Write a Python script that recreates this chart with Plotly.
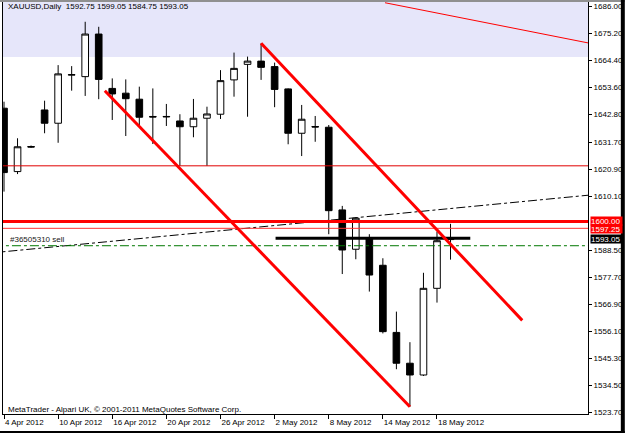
import plotly.graph_objects as go

# ---- data ----
bar_index = list(range(34))
opens  = [1645.2, 1619.9, 1629.9, 1644.5, 1639.2, 1658.4, 1657.8, 1674.8, 1653.1, 1651.2,
          1648.8, 1641.9, 1641.7, 1640.1, 1637.8, 1641.2, 1642.8, 1656.5, 1662.7, 1664.0,
          1661.8, 1652.9, 1635.2, 1637.9, 1637.6, 1604.6, 1588.9, 1593.3, 1582.5, 1555.7,
          1543.4, 1538.7, 1573.3, 1592.75]
highs  = [1647.8, 1633.2, 1630.3, 1648.2, 1662.4, 1662.0, 1679.7, 1677.7, 1657.1, 1656.7,
          1653.8, 1653.1, 1646.9, 1642.8, 1648.9, 1645.8, 1660.4, 1667.4, 1665.8, 1671.1,
          1663.4, 1653.1, 1646.5, 1642.1, 1638.5, 1606.2, 1601.6, 1594.9, 1585.3, 1564.0,
          1551.8, 1579.5, 1595.9, 1599.05]
lows   = [1611.9, 1618.9, 1629.4, 1635.2, 1631.4, 1652.2, 1650.1, 1648.8, 1640.5, 1634.1,
          1637.8, 1630.9, 1638.1, 1622.2, 1633.6, 1622.2, 1640.9, 1649.8, 1641.8, 1656.5,
          1645.6, 1630.8, 1626.1, 1631.8, 1594.9, 1579.0, 1584.9, 1572.0, 1555.3, 1541.0,
          1526.0, 1538.3, 1567.6, 1584.75]
closes = [1619.5, 1629.8, 1629.7, 1639.2, 1658.9, 1658.6, 1674.8, 1656.7, 1650.9, 1649.0,
          1641.6, 1641.7, 1641.9, 1637.8, 1641.2, 1642.9, 1656.2, 1661.1, 1664.0, 1661.5,
          1652.7, 1635.2, 1640.8, 1637.7, 1604.3, 1588.6, 1601.3, 1578.6, 1556.0, 1543.4,
          1538.7, 1573.3, 1592.3, 1593.05]

x_tick_pos = [0, 4, 8, 12, 16, 20, 24, 28, 32]
x_tick_labels = ["4 Apr 2012", "10 Apr 2012", "16 Apr 2012", "20 Apr 2012", "26 Apr 2012",
                 "2 May 2012", "8 May 2012", "14 May 2012", "18 May 2012"]
y_tick_vals = [1686.00, 1675.20, 1664.40, 1653.60, 1642.80, 1631.70, 1620.90, 1610.10,
               1588.50, 1577.70, 1566.90, 1556.10, 1545.30, 1534.50, 1523.70]

# drawn objects (data coordinates)
upper_channel_x = [19, 38.3]
upper_channel_y = [1671.1, 1560.5]
lower_channel_x = [7.45, 30]
lower_channel_y = [1652.2, 1526.0]
top_line_x = [28.16, 45]
top_line_y = [1687.3, 1669.3]
trend_dd_x = [-1, 44]
trend_dd_y = [1587.4, 1610.9]
black_level_x = [20.07, 34.46]
black_level_y = 1593.3
level_thick_red = 1600.00
level_thin_red = 1597.25
level_dark_red = 1622.2
sell_order_level = 1590.3
zone_low = 1665.6
bid = 1593.05

title_text = "XAUUSD,Daily  1592.75 1599.05 1584.75 1593.05"

# ---- geometry ----
L, R, T, B = 2, 35, 2, 19
W, H = 625, 433
pw, ph = W - L - R, H - T - B
x_range = [-0.074, 43.16]
y_range = [1523.128, 1687.597]
FONT = "Liberation Sans"

def px(xp):
    return (xp - L) / pw

def py(yp):
    return (H - B - yp) / ph

fig = go.Figure()

fig.add_trace(go.Candlestick(
    x=bar_index, open=opens, high=highs, low=lows, close=closes,
    increasing=dict(line=dict(color="black", width=1), fillcolor="white"),
    decreasing=dict(line=dict(color="black", width=1), fillcolor="black"),
    whiskerwidth=0, showlegend=False, hoverinfo="skip"))

def line(xs, ys, color, width, dash="solid"):
    fig.add_trace(go.Scatter(x=xs, y=ys, mode="lines",
                             line=dict(color=color, width=width, dash=dash),
                             showlegend=False, hoverinfo="skip"))

line(trend_dd_x, trend_dd_y, "black", 1, "dashdot")
line([x_range[0] - 2, x_range[1] + 2], [sell_order_level] * 2, "#007800", 1, "dashdot")
line([x_range[0] - 2, x_range[1] + 2], [level_dark_red] * 2, "#E00000", 1)
line([x_range[0] - 2, x_range[1] + 2], [level_thin_red] * 2, "#FF3030", 1)
line([x_range[0] - 2, x_range[1] + 2], [level_thick_red] * 2, "#FF0000", 3)
line(black_level_x, [black_level_y] * 2, "black", 3)
line(upper_channel_x, upper_channel_y, "#FF0000", 3)
line(lower_channel_x, lower_channel_y, "#FF0000", 3)
line(top_line_x, top_line_y, "#FF0000", 1)

shapes = [
    dict(type="rect", xref="paper", yref="y", x0=0, x1=1, y0=zone_low, y1=y_range[1],
         fillcolor="#E6E6FA", line=dict(width=0), layer="below"),
    # window frame
    dict(type="rect", xref="paper", yref="paper", x0=px(-2), x1=px(627), y0=py(2), y1=py(-2),
         fillcolor="#909090", line=dict(width=0)),
    dict(type="rect", xref="paper", yref="paper", x0=px(-2), x1=px(627), y0=py(435), y1=py(431),
         fillcolor="black", line=dict(width=0)),
    dict(type="rect", xref="paper", yref="paper", x0=px(623), x1=px(627), y0=py(435), y1=py(-2),
         fillcolor="black", line=dict(width=0)),
]

annotations = [
    dict(xref="paper", yref="paper", x=px(5), y=py(7), text=title_text, showarrow=False,
         xanchor="left", yanchor="middle", font=dict(family=FONT, size=8, color="black")),
    dict(xref="paper", yref="paper", x=px(5), y=py(409),
         text="MetaTrader - Alpari UK, © 2001-2011 MetaQuotes Software Corp.", showarrow=False,
         xanchor="left", yanchor="middle", font=dict(family=FONT, size=8, color="black")),
    dict(xref="paper", yref="y", x=px(7), y=1592.6, text="#36505310 sell", showarrow=False,
         xanchor="left", yanchor="middle", font=dict(family=FONT, size=8, color="#202020")),
]
for val, bg, ys in [(level_thick_red, "#FF0000", 0.6), (level_thin_red, "#FF0000", -0.8),
                    (bid, "black", -0.5)]:
    annotations.append(dict(xref="paper", yref="y", x=px(592), y=val, text=f"{val:.2f}",
                            showarrow=False, xanchor="left", yanchor="middle", align="left",
                            bgcolor=bg, borderpad=0, width=31, height=8, yshift=ys,
                            font=dict(family=FONT, size=8, color="white")))

fig.update_layout(
    width=W, height=H, margin=dict(l=L, r=R, t=T, b=B),
    paper_bgcolor="white", plot_bgcolor="white",
    font=dict(family=FONT, size=8, color="black"),
    showlegend=False, shapes=shapes, annotations=annotations,
    xaxis=dict(range=x_range, rangeslider=dict(visible=False), showgrid=False, zeroline=False,
               tickmode="array", tickvals=x_tick_pos, ticktext=x_tick_labels, tickangle=0,
               ticks="outside", ticklen=4, tickcolor="black", ticklabelposition="outside right",
               showline=True, linecolor="black", linewidth=1, mirror=False,
               tickfont=dict(family=FONT, size=8, color="black")),
    yaxis=dict(range=y_range, side="right", showgrid=False, zeroline=False,
               tickmode="array", tickvals=y_tick_vals, ticktext=[f"{v:.2f}" for v in y_tick_vals],
               ticks="outside", ticklen=3, tickcolor="black",
               showline=True, linecolor="black", linewidth=1, mirror=True,
               tickfont=dict(family=FONT, size=8, color="black")),
)

fig.write_html("out.html")
